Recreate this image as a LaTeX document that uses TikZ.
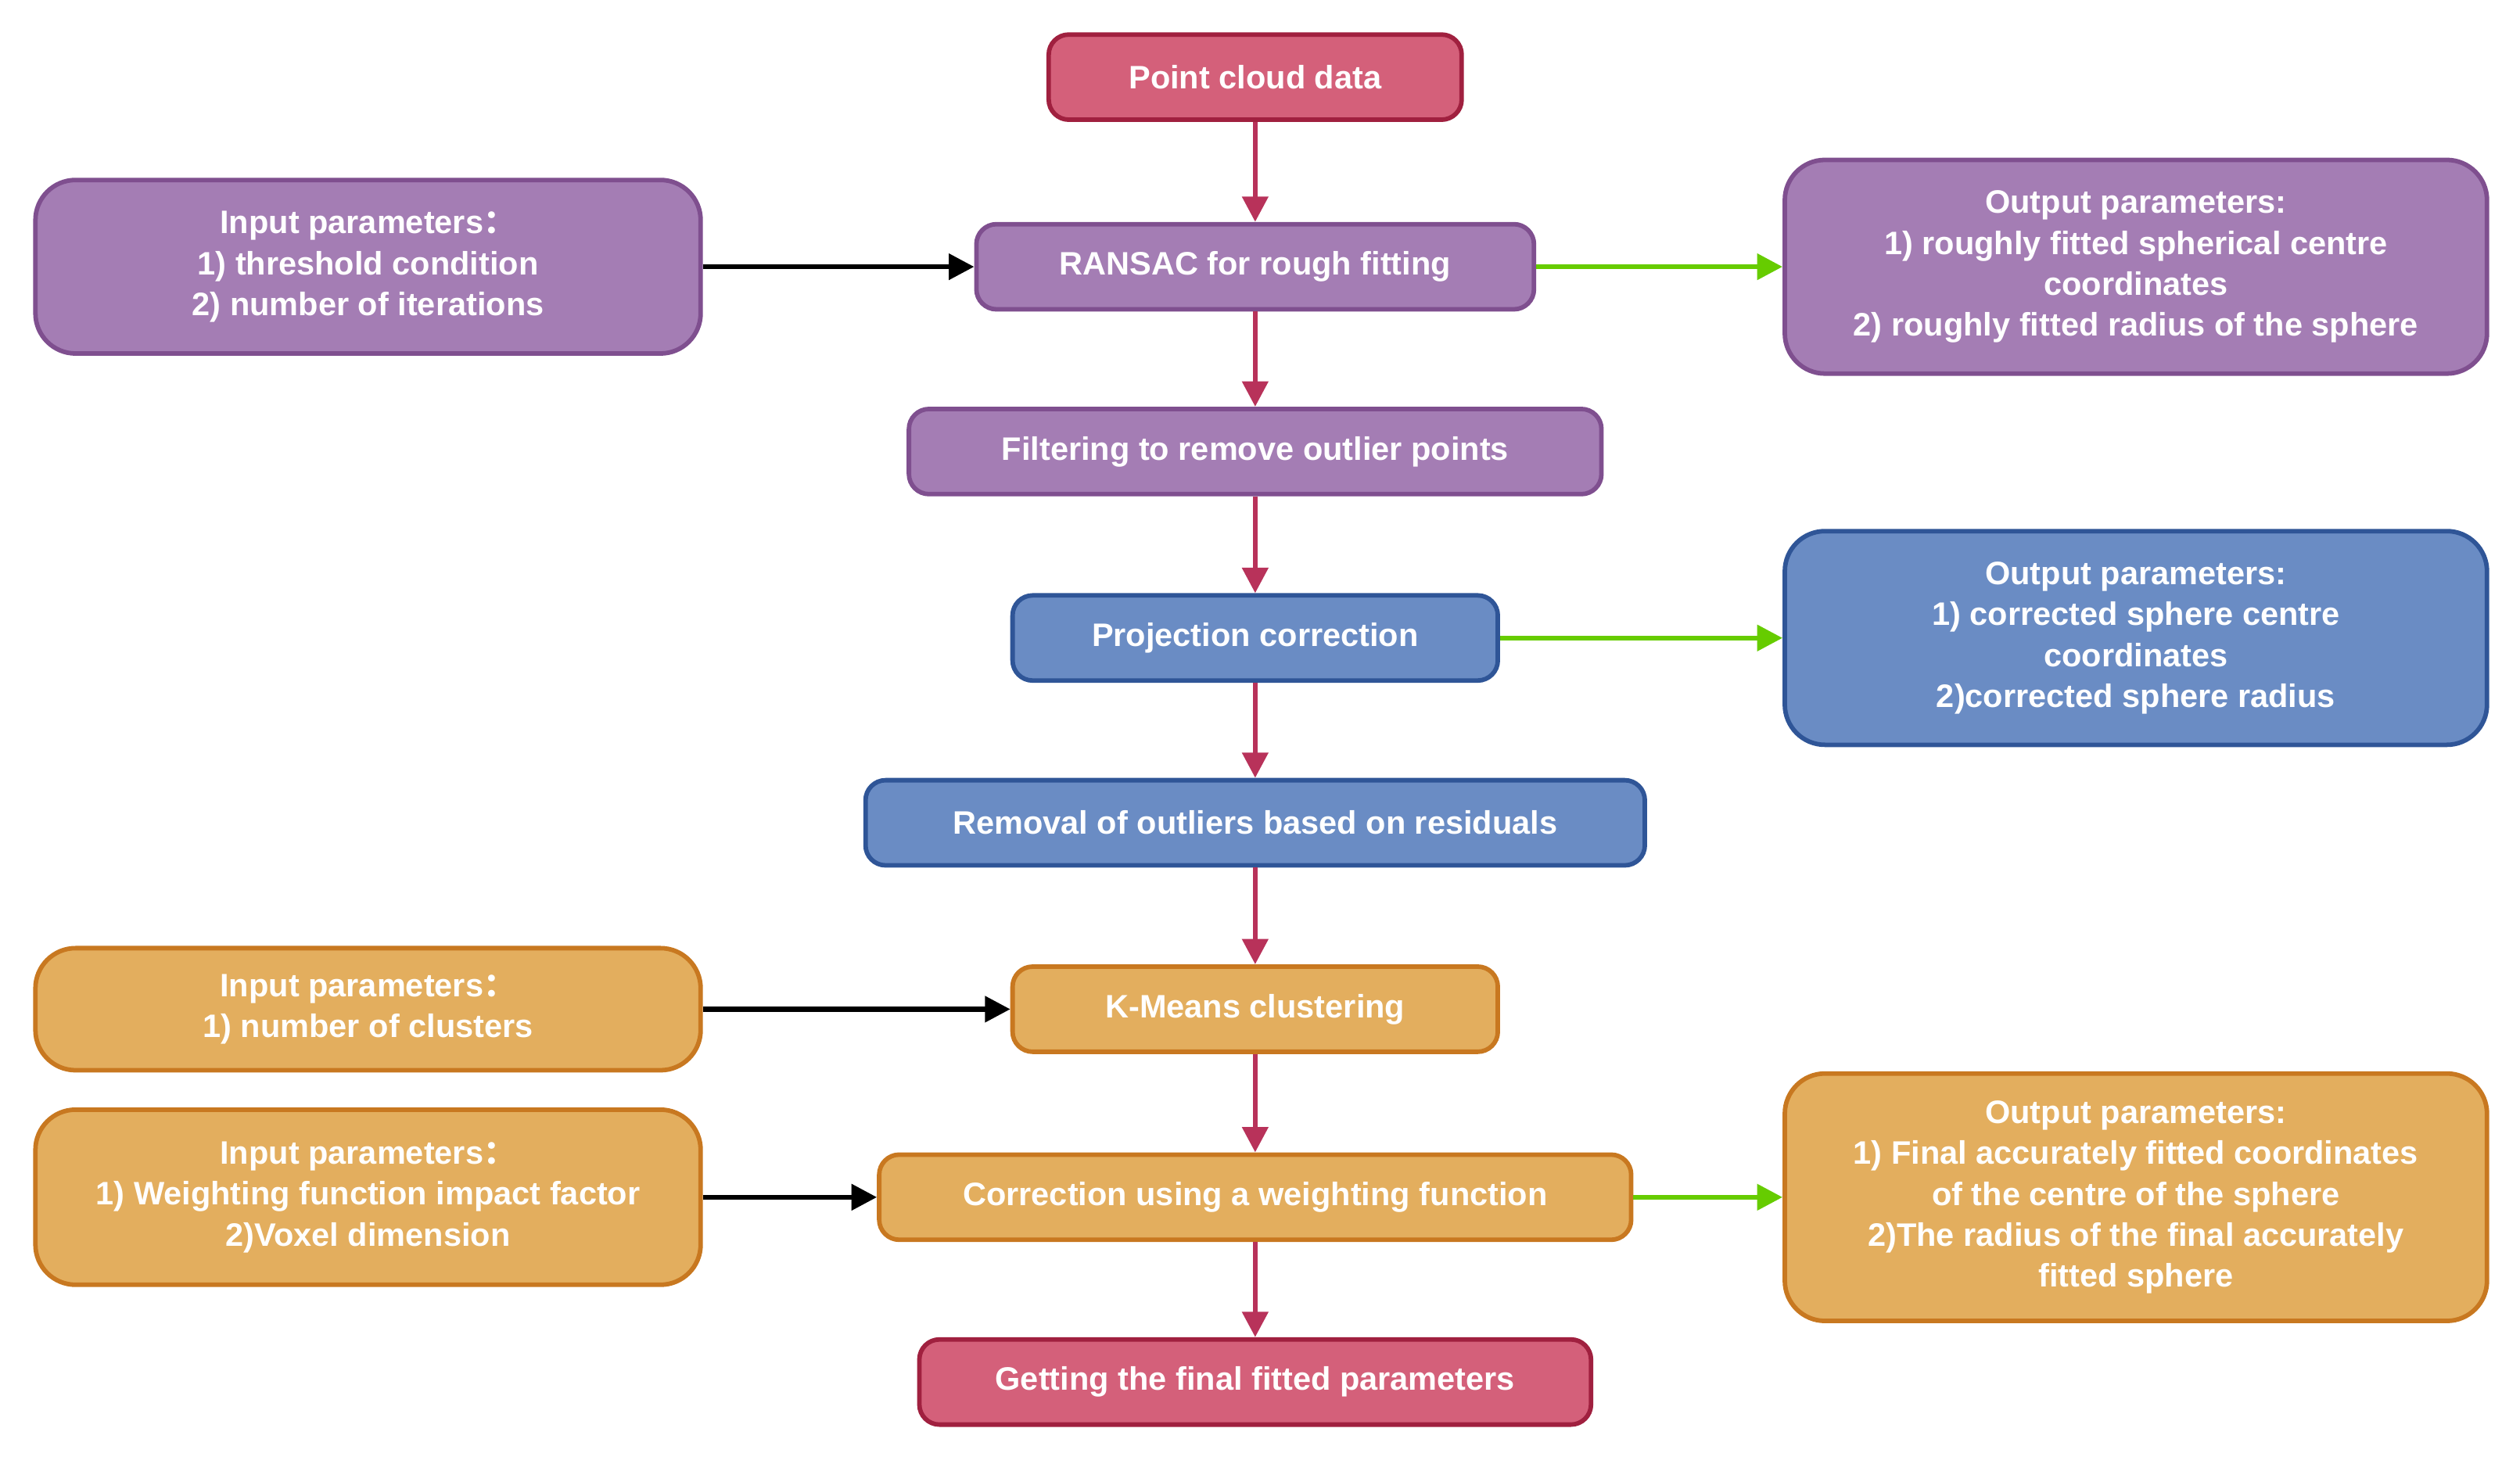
\documentclass[tikz,border=0pt]{standalone}
\usepackage{fontspec}
\setmainfont{Liberation Sans}
\newfontfamily\cjk{Noto Sans CJK SC}
\usetikzlibrary{arrows.meta}
\definecolor{redfill}{HTML}{D4607A}
\definecolor{redline}{HTML}{A0203F}
\definecolor{purfill}{HTML}{A47DB4}
\definecolor{purline}{HTML}{7F4F8F}
\definecolor{blufill}{HTML}{6A8CC4}
\definecolor{bluline}{HTML}{2F5597}
\definecolor{orafill}{HTML}{E3AE5E}
\definecolor{oraline}{HTML}{C87820}
\definecolor{flowred}{HTML}{B8325A}
\definecolor{outgreen}{HTML}{66CC00}
\newcommand{\fw}{{\cjk ：}}
\begin{document}
\begin{tikzpicture}[x=0.02cm,y=-0.02cm,
    box/.style={draw, line width=1.6pt, rounded corners=0.25cm, text=white, align=center,
        font=\fontsize{11.5}{14.5}\selectfont\bfseries, minimum height=1.06cm, inner sep=2pt},
    side/.style={box, rounded corners=0.5cm},
    redbox/.style={fill=redfill, draw=redline},
    purbox/.style={fill=purfill, draw=purline},
    blubox/.style={fill=blufill, draw=bluline},
    orabox/.style={fill=orafill, draw=oraline},
    flow/.style={draw=flowred, line width=1.8pt, -{Triangle[length=9pt,width=9pt]}},
    feed/.style={draw=black, line width=1.8pt, -{Triangle[length=9pt,width=9pt]}},
    give/.style={draw=outgreen, line width=1.8pt, -{Triangle[length=9pt,width=9pt]}}]
    \useasboundingbox (0,0) rectangle (1568,911);
    % main column
    \node[box, redbox, minimum width=5.14cm] (pcd) at (781,48) {Point cloud data};
    \node[box, purbox, minimum width=6.94cm] (ransac) at (781,166) {RANSAC for rough fitting};
    \node[box, purbox, minimum width=8.62cm] (filter) at (781,281) {Filtering to remove outlier points};
    \node[box, blubox, minimum width=6.04cm] (proj) at (781,397) {Projection correction};
    \node[box, blubox, minimum width=9.70cm] (resid) at (781,512) {Removal of outliers based on residuals};
    \node[box, orabox, minimum width=6.04cm] (kmeans) at (781,628) {K-Means clustering};
    \node[box, orabox, minimum width=9.36cm] (weight) at (781,745) {Correction using a weighting function};
    \node[box, redbox, minimum width=8.36cm] (final) at (781,860) {Getting the final fitted parameters};
    % inputs
    \node[side, purbox, minimum width=8.28cm, minimum height=2.16cm] (inransac) at (229,166)
        {Input parameters\fw\\1) threshold condition\\2) number of iterations};
    \node[side, orabox, minimum width=8.28cm, minimum height=1.52cm] (inkmeans) at (229,628)
        {Input parameters\fw\\1) number of clusters};
    \node[side, orabox, minimum width=8.28cm, minimum height=2.18cm] (inweight) at (229,745)
        {Input parameters\fw\\1) Weighting function impact factor\\2)Voxel dimension};
    % outputs
    \node[side, purbox, minimum width=8.74cm, minimum height=2.66cm] (outransac) at (1329,166)
        {Output parameters:\\1) roughly fitted spherical centre\\coordinates\\2) roughly fitted radius of the sphere};
    \node[side, blubox, minimum width=8.74cm, minimum height=2.66cm] (outproj) at (1329,397)
        {Output parameters:\\1) corrected sphere centre\\coordinates\\2)corrected sphere radius};
    \node[side, orabox, minimum width=8.74cm, minimum height=3.08cm] (outweight) at (1329,745)
        {Output parameters:\\1) Final accurately fitted coordinates\\of the centre of the sphere\\2)The radius of the final accurately\\fitted sphere};
    % connectors
    \draw[flow] (pcd) -- (ransac);
    \draw[flow] (ransac) -- (filter);
    \draw[flow] (filter) -- (proj);
    \draw[flow] (proj) -- (resid);
    \draw[flow] (resid) -- (kmeans);
    \draw[flow] (kmeans) -- (weight);
    \draw[flow] (weight) -- (final);
    \draw[feed] (inransac) -- (ransac);
    \draw[feed] (inkmeans) -- (kmeans);
    \draw[feed] (inweight) -- (weight);
    \draw[give] (ransac) -- (outransac);
    \draw[give] (proj) -- (outproj);
    \draw[give] (weight) -- (outweight);
\end{tikzpicture}
\end{document}
